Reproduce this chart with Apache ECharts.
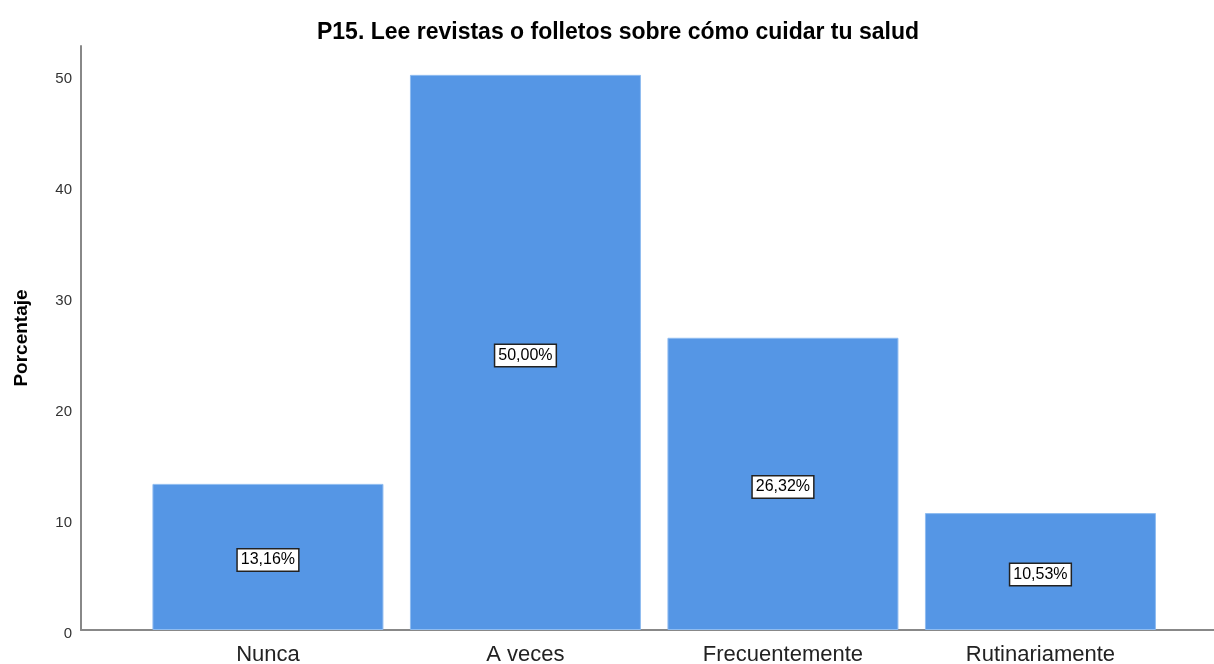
<!DOCTYPE html>
<html>
<head>
<meta charset="utf-8">
<script src="https://cdn.jsdelivr.net/npm/echarts@6/dist/echarts.min.js"></script>
<style>
  html, body { margin: 0; padding: 0; background: #fff; }
  #main { width: 1214px; height: 664px; }
</style>
</head>
<body>
<div id="main"></div>
<script>
const categories = ["Nunca", "A veces", "Frecuentemente", "Rutinariamente"];
const percentages = [13.16, 50.0, 26.32, 10.53];
const yTicks = [0, 10, 20, 30, 40, 50];

var chartDom = document.getElementById("main");
var myChart = echarts.init(chartDom);

// bars sit on a value axis so the axis line can run past the outer bars
const barData = percentages.map(function (v, i) {
  return [i, v];
});

var option = {
  animation: false,
  backgroundColor: "#ffffff",
  title: {
    text: "P15. Lee revistas o folletos sobre cómo cuidar tu salud",
    left: 613,
    top: 16,
    textAlign: "center",
    textStyle: {
      fontFamily: "Liberation Sans",
      fontSize: 23,
      fontWeight: "bold",
      color: "#000",
    },
  },
  grid: {
    left: 81,
    right: 0,
    top: 46,
    bottom: 34,
    containLabel: false,
    outerBoundsMode: "none",
  },
  xAxis: {
    type: "value",
    min: -0.726,
    max: 3.674,
    splitLine: { show: false },
    axisTick: { show: false },
    axisLine: { show: true, onZero: false, lineStyle: { color: "#888", width: 2 } },
    axisLabel: {
      customValues: [0, 1, 2, 3],
      formatter: function (v) {
        return categories[Math.round(v)];
      },
      fontFamily: "Liberation Sans",
      fontSize: 22,
      color: "#222",
      margin: 14,
    },
  },
  yAxis: {
    type: "value",
    min: 0,
    max: 52.6,
    interval: 10,
    name: "Porcentaje",
    nameLocation: "middle",
    nameGap: 50,
    nameTextStyle: {
      fontFamily: "Liberation Sans",
      fontSize: 19,
      fontWeight: "bold",
      color: "#000",
    },
    splitLine: { show: false },
    axisTick: { show: false },
    axisLine: { show: true, onZero: false, lineStyle: { color: "#888", width: 2 } },
    axisLabel: {
      showMaxLabel: false,
      formatter: function (v) {
        return yTicks.indexOf(v) >= 0 ? String(v) : "";
      },
      fontFamily: "Liberation Sans",
      fontSize: 15,
      color: "#333",
      margin: 9,
      verticalAlign: "top",
      lineHeight: 7,
    },
  },
  series: [
    {
      type: "bar",
      data: barData,
      barWidth: 231,
      itemStyle: {
        color: "#5596e5",
        borderColor: "#8fbcf0",
        borderWidth: 1,
      },
      label: {
        show: true,
        position: "inside",
        offset: [0, 3],
        formatter: function (p) {
          return p.value[1].toFixed(2).replace(".", ",") + "%";
        },
        fontFamily: "Liberation Sans",
        fontSize: 16,
        color: "#000",
        backgroundColor: "#fff",
        borderColor: "#222",
        borderWidth: 1.5,
        padding: [3, 3, 2, 3],
      },
    },
  ],
};

myChart.setOption(option);
</script>
</body>
</html>
